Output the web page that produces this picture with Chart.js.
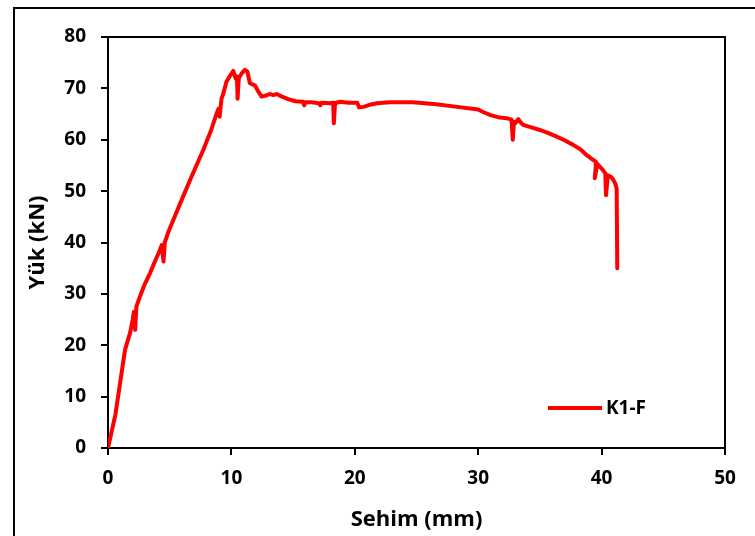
<!DOCTYPE html>
<html>
<head>
<meta charset="utf-8">
<script src="https://cdn.jsdelivr.net/npm/chart.js@4.4.1/dist/chart.umd.min.js"></script>
<style>
  html, body { margin: 0; padding: 0; background: #fff; }
  #wrap { width: 755px; height: 536px; }
</style>
</head>
<body>
<div id="wrap"><canvas id="c" width="755" height="536"></canvas></div>
<script>
// Load–deflection curve of specimen K1-F
const seriesLabel = 'K1-F';
const deflection = [
  0, 0.6, 1.38, 1.8, 2.0, 2.1, 2.2, 2.3, 2.59, 3.0, 3.4, 3.8, 4.2, 4.35, 4.5, 4.6, 4.9, 5.4, 5.97,
  6.8, 7.72, 8.3, 8.8, 8.95, 9.05, 9.2, 9.35, 9.6, 9.9, 10.15, 10.35, 10.45, 10.5, 10.6, 10.83,
  11.1, 11.29, 11.5, 11.9, 12.2, 12.45, 12.8, 13.1, 13.4, 13.67, 14.1, 14.6, 15.2, 15.8, 15.9,
  16.0, 16.5, 17.1, 17.2, 17.3, 18.0, 18.25, 18.3, 18.4, 18.8, 19.5, 20.2, 20.35, 20.7, 21.2,
  21.8, 22.85, 24.7, 26.6, 28.3, 30.0, 30.4, 31.0, 31.6, 32.3, 32.7, 32.8, 32.9, 33.0, 33.25,
  33.5, 33.65, 34.3, 35.0, 35.7, 36.36, 37.0, 37.7, 38.3, 38.8, 39.3, 39.55, 39.45, 39.65, 40.0,
  40.3, 40.36, 40.5, 40.75, 40.95, 41.1, 41.22, 41.27
];
const load = [
  0, 6.5, 19.1, 22.5, 25.0, 26.5, 23.0, 27.5, 29.5, 32.0, 34.0, 36.3, 38.5, 39.5, 36.3, 40.0, 42.1, 45.0, 48.3,
  53.0, 58.0, 61.5, 65.1, 66.0, 64.5, 68.0, 69.0, 71.3, 72.5, 73.4, 71.9, 72.3, 68.0, 72.0, 72.9,
  73.6, 73.3, 71.0, 70.6, 69.3, 68.4, 68.6, 68.9, 68.7, 68.9, 68.4, 67.9, 67.5, 67.4, 66.7,
  67.3, 67.3, 67.1, 66.7, 67.2, 67.1, 67.2, 63.2, 67.1, 67.4, 67.2, 67.2, 66.3, 66.4, 66.8,
  67.1, 67.3, 67.3, 66.9, 66.4, 65.9, 65.4, 64.8, 64.4, 64.2, 63.9, 60.0, 63.5, 63.2, 64.0,
  63.2, 62.9, 62.4, 61.9, 61.3, 60.6, 59.9, 59.0, 58.1, 57.0, 56.1, 55.7, 52.5, 55.3, 54.4,
  53.5, 49.2, 53.1, 52.8, 52.2, 51.5, 50.5, 35.0
];
const xTicks = [0, 10, 20, 30, 40, 50];
const yTicks = [0, 10, 20, 30, 40, 50, 60, 70, 80];
const xTitle = 'Sehim (mm)';
const yTitle = 'Yük (kN)';

const points = deflection.map((x, i) => ({ x, y: load[i] }));
const FONT = '"Open Sans", sans-serif';

// Frame around the whole figure, closing box of the plot and in-plot legend
const framePlugin = {
  id: 'frame',
  afterDraw(chart) {
    const ctx = chart.ctx;
    const a = chart.chartArea;
    ctx.save();
    ctx.strokeStyle = '#000';
    ctx.lineWidth = 2;
    // outer figure border
    ctx.beginPath();
    ctx.moveTo(14, chart.height + 5);
    ctx.lineTo(14, 8);
    ctx.lineTo(chart.width + 5, 8);
    ctx.stroke();
    // top and right edges of the plot box
    ctx.beginPath();
    ctx.moveTo(a.left, a.top);
    ctx.lineTo(a.right, a.top);
    ctx.lineTo(a.right, a.bottom);
    ctx.stroke();
    // legend
    const ds = chart.data.datasets[0];
    const ly = a.bottom - 40;
    const lx = a.left + 440;
    ctx.strokeStyle = ds.borderColor;
    ctx.lineWidth = 4;
    ctx.beginPath();
    ctx.moveTo(lx, ly);
    ctx.lineTo(lx + 54, ly);
    ctx.stroke();
    ctx.fillStyle = '#000';
    ctx.font = 'bold 19px ' + FONT;
    ctx.textBaseline = 'middle';
    ctx.textAlign = 'left';
    ctx.fillText(ds.label, lx + 58, ly + 1);
    ctx.restore();
  }
};

new Chart(document.getElementById('c'), {
  type: 'scatter',
  data: {
    datasets: [{
      label: seriesLabel,
      data: points,
      showLine: true,
      borderColor: '#ff0000',
      backgroundColor: '#ff0000',
      borderWidth: 4,
      borderJoinStyle: 'round',
      borderCapStyle: 'round',
      pointRadius: 0,
      tension: 0
    }]
  },
  options: {
    responsive: false,
    animation: false,
    devicePixelRatio: 1,
    layout: { padding: { left: 14, top: 37, right: 30, bottom: 0 } },
    plugins: { legend: { display: false }, tooltip: { enabled: false } },
    scales: {
      x: {
        type: 'linear',
        min: 0, max: 50,
        afterBuildTicks(scale) { scale.ticks = xTicks.map(v => ({ value: v })); },
        afterFit(scale) { scale.height = 88; },
        border: { display: true, color: '#000', width: 2 },
        grid: { display: true, drawOnChartArea: false, drawTicks: true, tickLength: 7, color: '#000', lineWidth: 2 },
        ticks: { color: '#000', padding: 12, maxRotation: 0, font: { family: FONT, size: 19, weight: 'bold' } },
        title: { display: true, text: xTitle, color: '#000', padding: { top: 0, bottom: 3 }, font: { family: FONT, size: 22, weight: 'bold' } }
      },
      y: {
        type: 'linear',
        min: 0, max: 80,
        afterBuildTicks(scale) { scale.ticks = yTicks.map(v => ({ value: v })); },
        afterFit(scale) { scale.width = 94; },
        border: { display: true, color: '#000', width: 2 },
        grid: { display: true, drawOnChartArea: false, drawTicks: true, tickLength: 7, color: '#000', lineWidth: 2 },
        ticks: { color: '#000', padding: 15, font: { family: FONT, size: 19, weight: 'bold' } },
        title: { display: true, text: yTitle, color: '#000', padding: { top: 11, bottom: 0 }, font: { family: FONT, size: 22, weight: 'bold' } }
      }
    }
  },
  plugins: [framePlugin]
});
</script>
</body>
</html>
